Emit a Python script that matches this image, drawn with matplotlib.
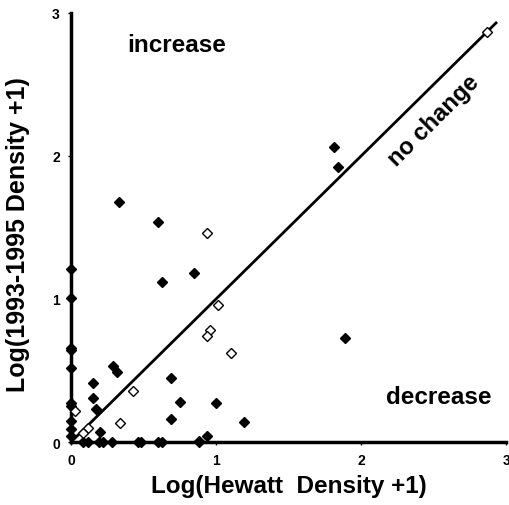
import matplotlib.pyplot as plt

plt.rcParams['font.family'] = ['Liberation Sans', 'DejaVu Sans']
plt.rcParams['font.weight'] = 'bold'

# filled diamonds (Log(Hewatt Density+1), Log(1993-1995 Density+1))
filled_x = [0.33, 0.60, 1.81, 1.84, 1.89, 0.85, 0.63, 0.29, 0.32, 0.69, 0.15,
            0.15, 0.75, 1.00, 0.17, 0.69, 1.19, 0.94, 0.88, 0.20,
            0.08, 0.12, 0.19, 0.22, 0.28, 0.46, 0.48, 0.60, 0.63, 0.88,
            0.0, 0.0, 0.0, 0.0, 0.0, 0.0, 0.0, 0.0, 0.0, 0.0]
filled_y = [1.68, 1.54, 2.06, 1.92, 0.73, 1.18, 1.12, 0.53, 0.49, 0.45, 0.41,
            0.31, 0.28, 0.27, 0.23, 0.16, 0.14, 0.04, 0.01, 0.07,
            0.0, 0.0, 0.0, 0.0, 0.0, 0.0, 0.0, 0.0, 0.0, 0.0,
            1.21, 1.01, 0.66, 0.64, 0.52, 0.27, 0.25, 0.15, 0.09, 0.04]

# open diamonds
open_x = [2.87, 0.94, 1.01, 0.96, 0.94, 1.10, 0.43, 0.34, 0.12, 0.03, 0.08]
open_y = [2.87, 1.46, 0.96, 0.78, 0.74, 0.62, 0.36, 0.13, 0.10, 0.22, 0.06]

line_end = 2.93

fig = plt.figure(figsize=(5.09, 5.06), dpi=100)
ax = fig.add_axes([0.1395, 0.1245, 0.855, 0.848])

ax.plot([0, line_end], [0, line_end], color='black', lw=2, zorder=2)
ax.plot(filled_x, filled_y, 'D', color='black', ms=5.5, zorder=3, clip_on=False)
ax.plot(open_x, open_y, 'D', mfc='white', mec='black', mew=1, ms=5.5, zorder=3, clip_on=False)

ax.set_xlim(0, 3)
ax.set_ylim(0, 3)
ax.set_xticks([0, 1, 2, 3])
ax.set_yticks([0, 1, 2, 3])
ax.tick_params(labelsize=10, length=2, width=1, pad=6)
for lab in ax.get_xticklabels() + ax.get_yticklabels():
    lab.set_fontweight('bold')

for s in ['top', 'right']:
    ax.spines[s].set_visible(False)
for s in ['left', 'bottom']:
    ax.spines[s].set_linewidth(2.5)

ax.set_xlabel('Log(Hewatt  Density +1)', fontsize=17.5, fontweight='bold', labelpad=5)
ax.set_ylabel('Log(1993-1995 Density +1)', fontsize=18, fontweight='bold')
ax.yaxis.set_label_coords(-0.095, 0.485)

ax.text(0.39, 2.78, 'increase', fontsize=17.5, fontweight='bold', va='center')
ax.text(2.17, 0.32, 'decrease', fontsize=17.5, fontweight='bold', va='center')
ax.text(2.5, 2.25, 'no change', fontsize=17, fontweight='bold', rotation=45,
        ha='center', va='center')

fig.savefig('out.png', dpi=100)
